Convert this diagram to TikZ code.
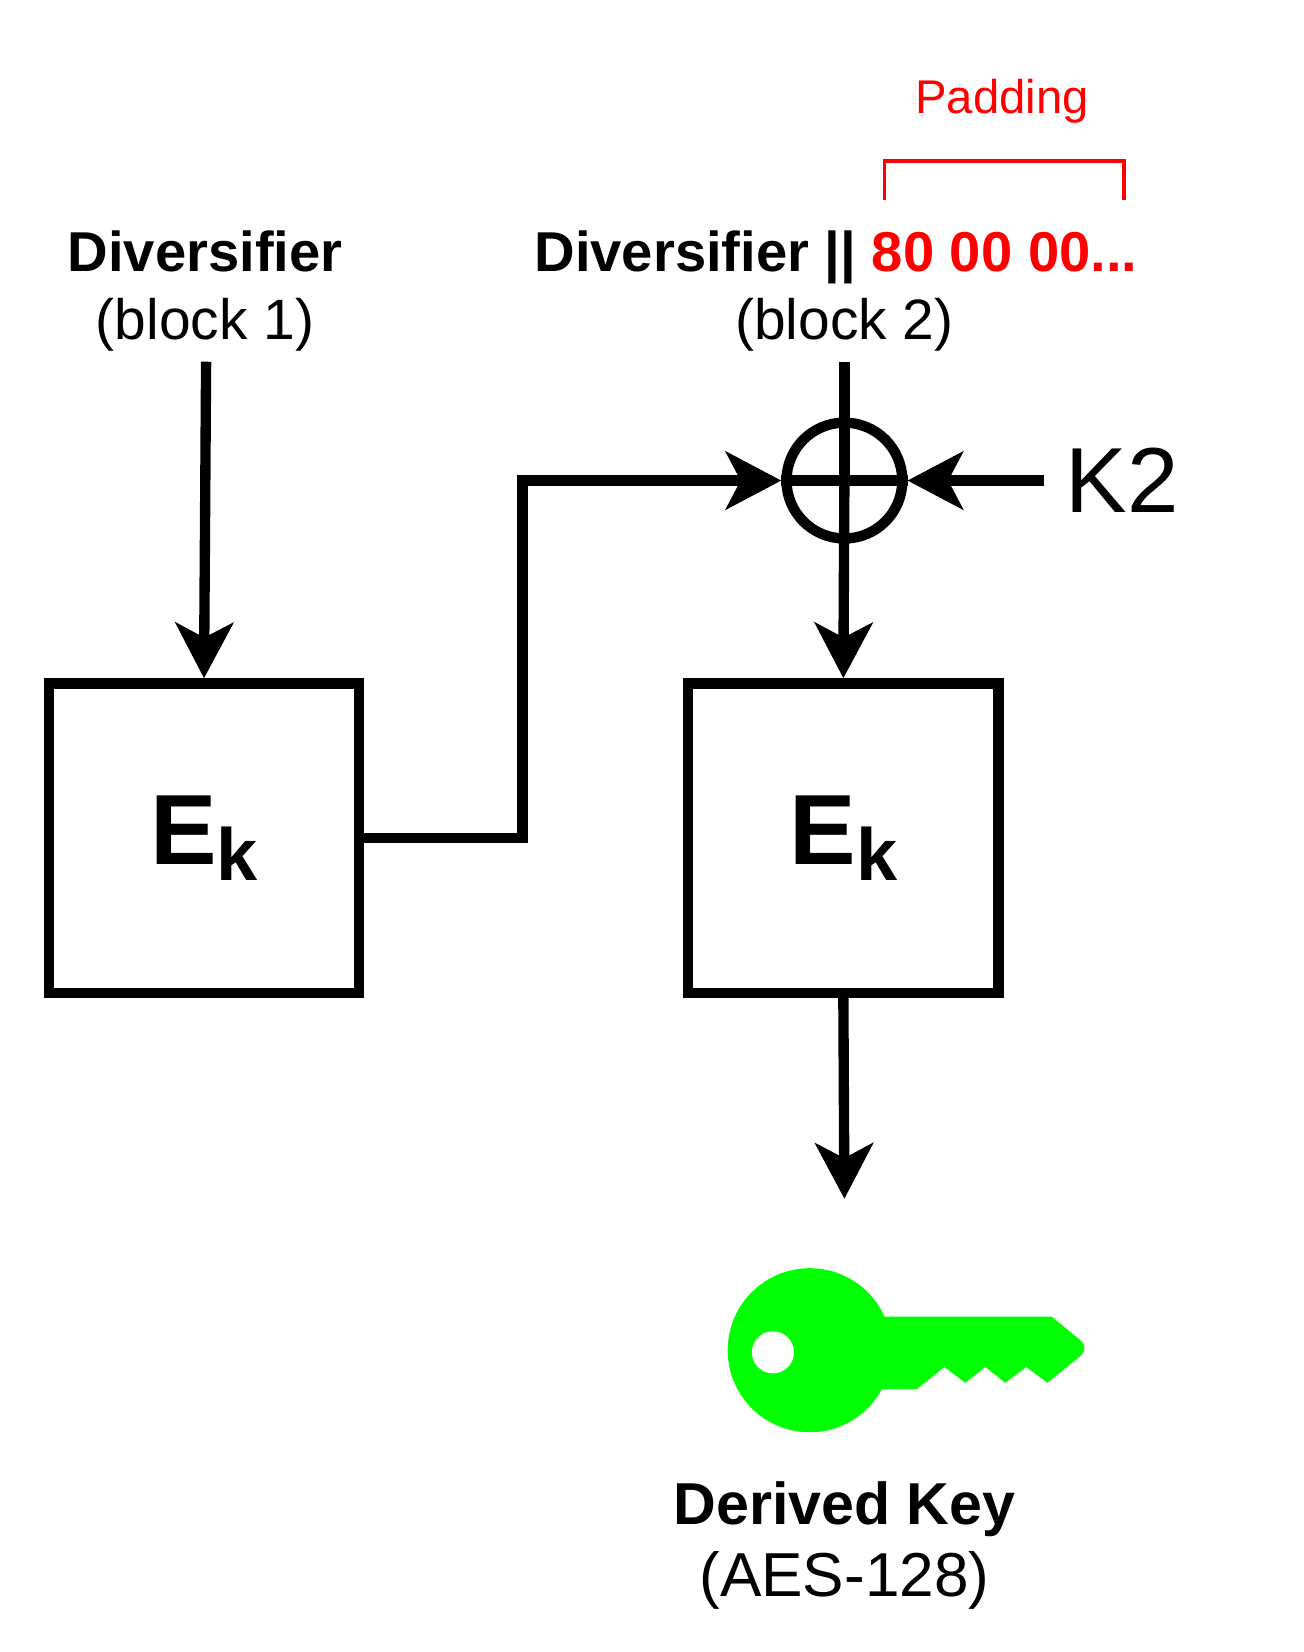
\documentclass[tikz,border=0pt]{standalone}
\usepackage{fontspec}
\setmainfont{Liberation Sans}
\usetikzlibrary{arrows.meta}
\definecolor{keygreen}{RGB}{0,255,0}
\begin{document}
\begin{tikzpicture}[x=0.05cm,y=-0.05cm,
  line/.style={line width=14pt},
  arr/.style={line, -{Stealth[length=75pt,width=78pt,inset=20pt]}},
  box/.style={draw,line width=14pt,minimum width=305*0.05cm-14pt,minimum height=304*0.05cm-14pt,inner sep=0pt},
  big/.style={font=\fontsize{76}{90}\selectfont\bfseries},
  reg/.style={font=\fontsize{77}{90}\selectfont},
  lbl/.style={inner sep=0pt,anchor=base}]
\useasboundingbox (0,0) rectangle (1240,1571);
\node[box] (b1) at (194,797) {};
\node[box] (b2) at (802,797) {};
\node (e1) at (194,797) {\fontsize{135}{140}\selectfont\bfseries E\raisebox{-22pt}{\fontsize{100}{100}\selectfont k}};
\node (e2) at (802,797) {\fontsize{135}{140}\selectfont\bfseries E\raisebox{-22pt}{\fontsize{100}{100}\selectfont k}};
\node[lbl,big] (d1) at (195,258) {Diversifier};
\node[lbl,reg] (bl1) at (195,323) {(block 1)};
\node[lbl,big] (d2) at (795,258) {Diversifier || \textcolor{red}{80 00 00...}};
\node[lbl,reg] (bl2) at (803,323) {(block 2)};
\node[lbl,font=\fontsize{64}{70}\selectfont,text=red] (pad) at (953,108) {Padding};
\node[lbl,font=\fontsize{125}{130}\selectfont] (k2) at (1067,487) {K2};
\node[lbl,font=\fontsize{80}{90}\selectfont\bfseries] (dk) at (803,1450) {Derived Key};
\node[lbl,font=\fontsize{84}{95}\selectfont] (aes) at (803,1518) {(AES-128)};
\node[circle,draw,line width=14pt,minimum size=120*0.05cm-14pt,inner sep=0pt] (x) at (803,457) {};
\coordinate (s1) at (196,344);
\coordinate (s2) at (803,344);
\coordinate (sk) at (993,457);
\coordinate (out) at (803,1140);
\coordinate (pl) at (841,190);
\coordinate (pr) at (1069,190);
\draw[arr] (s1) -- (b1.north);
\draw[line] (s2) -- (x.center);
\draw[arr] (x.center) -- (b2.north);
\draw[line] (x.west) -- (x.east);
\draw[arr] (b1.east) -- (497,797) -- (497,457) -- (x.west);
\draw[arr] (sk) -- (x.east);
\draw[arr] (b2.south) -- (out);
\draw[red,line width=5pt] (pl) -- (841,153) -- (1069,153) -- (pr);
% key
\fill[keygreen] (770,1284) circle (78);
\fill[keygreen] (830,1252) -- (1000,1252) -- (1028,1275) to[out=-40,in=40] (1028,1289) -- (996,1315) -- (976,1300) -- (956,1315) -- (937,1300) -- (918,1315) -- (898,1300) -- (872,1321) -- (830,1321) -- cycle;
\fill[white] (735,1286) circle (20);
\end{tikzpicture}
\end{document}
